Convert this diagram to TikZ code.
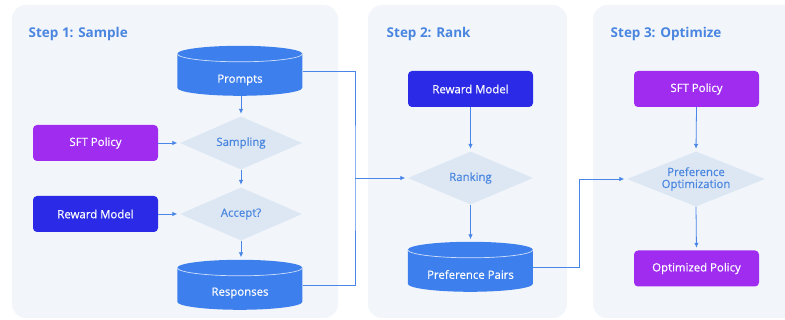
\documentclass[tikz,border=0pt]{standalone}
\usepackage{fontspec}
\setmainfont{Open Sans}
\newfontfamily\medfont{Open Sans}[FakeBold=0.45]
\usetikzlibrary{shapes.geometric,arrows.meta}

\definecolor{panelbg}{HTML}{F2F6FB}
\definecolor{titleblue}{HTML}{4A86E0}
\definecolor{cylblue}{HTML}{3D7FEC}
\definecolor{policypurple}{HTML}{A02CF0}
\definecolor{rmblue}{HTML}{2B2AE6}
\definecolor{decfill}{HTML}{DCE7F3}
\definecolor{linkblue}{HTML}{4A86E8}

\tikzset{
  panel/.style={fill=panelbg, rounded corners=14pt},
  steptitle/.style={anchor=base west, inner sep=0pt, text=titleblue, font=\fontsize{13.5}{15}\selectfont\bfseries},
  label/.style={font=\medfont\fontsize{11.4}{13}\selectfont},
  procbox/.style={label, rounded corners=4pt, minimum width=125pt, minimum height=36pt, inner sep=0pt,
    text=white},
  policy/.style={procbox, fill=policypurple},
  rewardm/.style={procbox, fill=rmblue},
  store/.style={minimum width=125pt, minimum height=50pt, inner sep=0pt},
  storetext/.style={label, text=white, inner sep=0pt},
  decision/.style={label, diamond, fill=decfill, inner sep=0pt, aspect=2.3,
    text=titleblue, align=center},
  link/.style={draw=linkblue, line width=0.8pt},
  flow/.style={link, -{Latex[length=5pt,width=4.5pt]}, shorten >=2.5pt},
}

% cylinder drawn behind a store node (height 50, radius of the caps 8)
\newcommand\drawstore[1]{%
  \fill[cylblue] (#1.north west) ++(0,8)
    arc[start angle=180, end angle=360, x radius=62.5, y radius=8]
    -- ++(0,34)
    arc[start angle=0, end angle=180, x radius=62.5, y radius=8] -- cycle;
  \draw[white!75!cylblue, line width=0.7pt] (#1.north west) ++(0,8)
    arc[start angle=180, end angle=0, x radius=62.5, y radius=8];
}

\begin{document}
\begin{tikzpicture}[x=1pt, y=-1pt]
  \useasboundingbox (0,0) rectangle (785,320);
  \clip (0,0) rectangle (785,320);
  \fill[white] (0,0) rectangle (785,320);

  % background panels
  \fill[panel] (12,5) rectangle (338,318);
  \fill[panel] (368,5) rectangle (567,318);
  \fill[panel] (593,5) rectangle (810,318);

  \node[steptitle] (t1) at (28.5,37.5) {Step 1: Sample};
  \node[steptitle] (t2) at (386.5,37.5) {Step 2: Rank};
  \node[steptitle] (t3) at (610.5,37.5) {Step 3: Optimize};

  % step 1
  \node[store] (prompts) at (240,71) {};
  \drawstore{prompts}
  \node[storetext] (promptsText) at (240,80) {Prompts};
  \node[decision, minimum width=122pt, minimum height=53pt] (sampling) at (241,143) {Sampling};
  \node[policy] (sft1) at (95.5,143) {SFT Policy};
  \node[decision, minimum width=122pt, minimum height=53pt] (accept) at (241,214) {Accept?};
  \node[rewardm] (rm1) at (95.5,214) {Reward Model};
  \node[store] (responses) at (240,285) {};
  \drawstore{responses}
  \node[storetext] (responsesText) at (240,293) {Responses};

  \draw[flow] (prompts.south -| sampling.north) -- (sampling.north);
  \draw[flow] (sft1.east) -- (sampling.west);
  \draw[flow] (sampling.south) -- (accept.north);
  \draw[flow] (rm1.east) -- (accept.west);
  \draw[flow] (accept.south) -- (responses.north -| accept.south);

  % step 2
  \node[rewardm] (rm2) at (470.5,89) {Reward Model};
  \node[decision, minimum width=125pt, minimum height=53pt] (ranking) at (470.5,178) {Ranking};
  \node[store] (pairs) at (470.5,267) {};
  \drawstore{pairs}
  \node[storetext] (pairsText) at (470.5,274.5) {Preference Pairs};

  \draw[flow] (rm2.south) -- (ranking.north);
  \draw[flow] (ranking.south) -- (pairs.north);

  \coordinate (busA) at (355,178);
  \draw[link] (prompts.east) -| (busA) |- (responses.east);
  \draw[flow] (busA) -- (ranking.west);

  % step 3
  \node[policy] (sft3) at (696.5,89) {SFT Policy};
  \node[decision, minimum width=138pt, minimum height=55pt] (prefopt) at (696,179)
    {Preference\\[-1pt]Optimization};
  \node[policy] (optpol) at (696.5,268.5) {Optimized Policy};

  \draw[flow] (sft3.south) -- (prefopt.north);
  \draw[flow] (prefopt.south) -- (optpol.north);

  \coordinate (busB) at (579,179);
  \draw[link] (pairs.east) -| (busB);
  \draw[flow] (busB) -- (prefopt.west);
\end{tikzpicture}
\end{document}
